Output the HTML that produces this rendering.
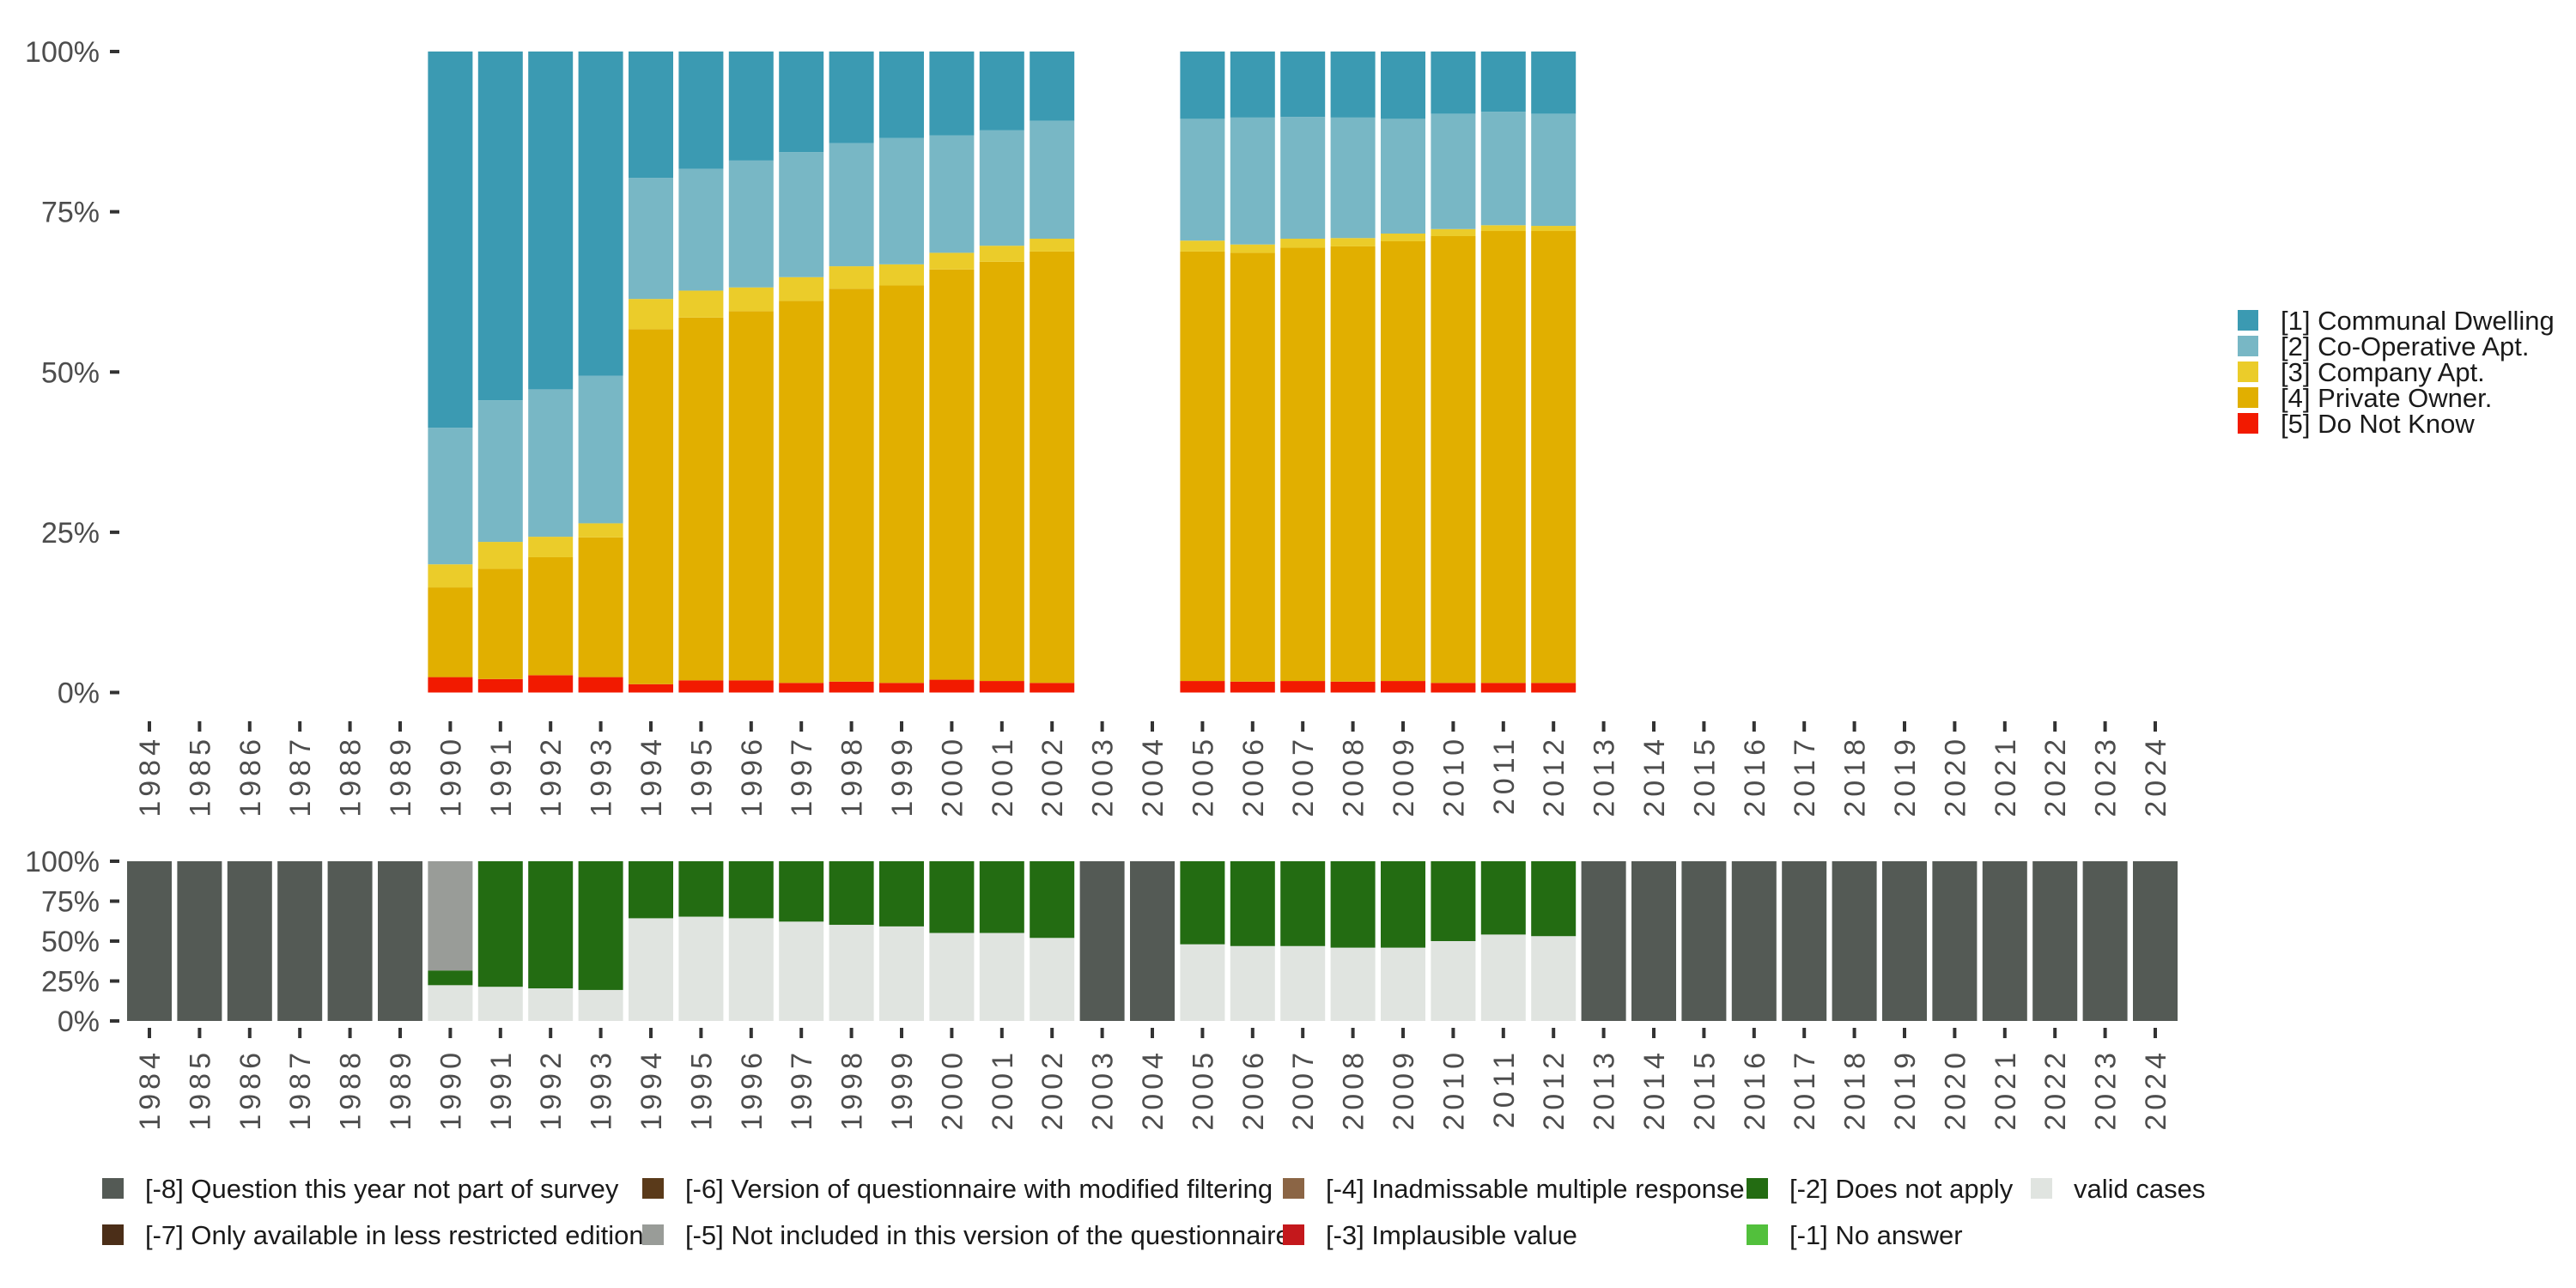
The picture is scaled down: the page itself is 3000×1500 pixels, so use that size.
<!DOCTYPE html>
<html><head><meta charset="utf-8"><style>
html,body{margin:0;padding:0;background:#fff;}
svg{display:block;font-family:"Liberation Sans",sans-serif;}
</style></head><body>
<svg id="chart" width="3000" height="1500" viewBox="0 0 3000 1500">
<g id="topPanel"></g>
<g id="botPanel"></g>
<g id="legR"></g>
<g id="legB"></g>
</svg>
<script>
const years = [];
for (let y = 1984; y <= 2024; y++) years.push(y);
const topYears = [1990,1991,1992,1993,1994,1995,1996,1997,1998,1999,2000,2001,2002,2005,2006,2007,2008,2009,2010,2011,2012];
const cumRed   = [2.4,2.1,2.7,2.4,1.3,1.9,1.9,1.5,1.7,1.5,2.0,1.8,1.5,1.8,1.7,1.8,1.7,1.8,1.5,1.5,1.5];
const cumGold  = [16.4,19.3,21.1,24.2,56.7,58.5,59.5,61.1,63.0,63.5,66.0,67.2,68.8,68.8,68.6,69.4,69.6,70.4,71.2,72.0,72.0];
const cumYel   = [20.0,23.5,24.3,26.4,61.4,62.7,63.2,64.8,66.5,66.8,68.6,69.7,70.8,70.5,69.9,70.8,70.9,71.6,72.3,72.9,72.8];
const cumLight = [41.3,45.6,47.3,49.4,80.3,81.7,83.0,84.3,85.7,86.5,86.9,87.7,89.2,89.5,89.7,89.8,89.7,89.5,90.3,90.6,90.3];
const topNames = ["[1] Communal Dwelling","[2] Co-Operative Apt.","[3] Company Apt.","[4] Private Owner.","[5] Do Not Know"];
const topColors = ["#3b9ab2","#78b7c5","#ebcc2a","#e1af00","#f21a00"];
const validPct = [22.4,21.4,20.4,19.4,64.3,65.3,64.3,62.2,60.2,59.2,55.1,55.1,52.0,48.0,46.9,46.9,45.9,45.9,50.0,54.1,53.1];
const dnaCum   = [31.6,100,100,100,100,100,100,100,100,100,100,100,100,100,100,100,100,100,100,100,100];
const yTicks = [0,25,50,75,100];
const yTickLabels = ["0%","25%","50%","75%","100%"];
const NS="http://www.w3.org/2000/svg";
function mk(tag, attrs, parent){const e=document.createElementNS(NS,tag);for(const k in attrs)e.setAttribute(k,attrs[k]);parent.appendChild(e);return e;}
const xS = y => 174 + (y-1984)*58.4;
const BW = 52;
const topY = v => 806.5 - v/100*746.5;
const botY = v => 1189 - v/100*186;
const topG=document.getElementById('topPanel'), botG=document.getElementById('botPanel');
function axes(g, yf, tickY, labY, pre){
  yTicks.forEach((t,i)=>{
    const tk=mk('line',{x1:128,x2:139,y1:yf(t),y2:yf(t),stroke:'#333','stroke-width':4},g);
    
    
    const tx=mk('text',{x:116,y:yf(t)+12,'text-anchor':'end','font-size':34,fill:'#4d4d4d'},g);
    tx.textContent=yTickLabels[i];
    
    
  });
  years.forEach(y=>{
    const tk=mk('line',{x1:xS(y),x2:xS(y),y1:tickY,y2:tickY+12,stroke:'#333','stroke-width':4},g);
    
    
    const tx=mk('text',{x:0,y:0,'text-anchor':'end','font-size':34,fill:'#4d4d4d','letter-spacing':5,transform:`translate(${xS(y)+12},${labY}) rotate(-90)`},g);
    tx.textContent=y;
    
    
  });
}
axes(topG, topY, 840, 856, 'top');
axes(botG, botY, 1197, 1221, 'bottom');
topYears.forEach((y,i)=>{
  const bounds=[0,cumRed[i],cumGold[i],cumYel[i],cumLight[i],100];
  const cols=["#f21a00","#e1af00","#ebcc2a","#78b7c5","#3b9ab2"];
  for(let s=0;s<5;s++){
    const r=mk('rect',{x:xS(y)-BW/2,y:topY(bounds[s+1]),width:BW,height:topY(bounds[s])-topY(bounds[s+1]),fill:cols[s]},topG);
    
    
  }
});
years.forEach(y=>{
  const i=topYears.indexOf(y);
  let segs;
  if(i<0) segs=[[0,100,"#545a55"]];
  else segs=[[0,validPct[i],"#e0e4e0"],[validPct[i],dnaCum[i],"#236c12"],[dnaCum[i],100,"#999c98"]];
  segs.forEach(([a,b,c])=>{
    if(b<=a) return;
    const r=mk('rect',{x:xS(y)-BW/2,y:botY(b),width:BW,height:botY(a)-botY(b),fill:c},botG);
    
    
  });
});
const lr=document.getElementById('legR');
topNames.forEach((n,i)=>{
  const r=mk('rect',{x:2606,y:361+i*30,width:24,height:24,fill:topColors[i]},lr);
  
  
  const t=mk('text',{x:2656,y:384+i*30,'font-size':31,fill:'#1a1a1a'},lr);
  t.textContent=n;
  
  
});
const lb=document.getElementById('legB');
const botLeg=[
 [119,0,"#545a55","[-8] Question this year not part of survey"],
 [748,0,"#5a3a1a","[-6] Version of questionnaire with modified filtering"],
 [1494,0,"#8b6545","[-4] Inadmissable multiple response"],
 [2034,0,"#236c12","[-2] Does not apply"],
 [2365,0,"#e0e4e0","valid cases"],
 [119,1,"#4b2e18","[-7] Only available in less restricted edition"],
 [748,1,"#999c98","[-5] Not included in this version of the questionnaire"],
 [1494,1,"#c4181c","[-3] Implausible value"],
 [2034,1,"#52c03c","[-1] No answer"]];
botLeg.forEach(([x,row,c,n])=>{
  const yy=1372+row*54;
  const r=mk('rect',{x:x,y:yy,width:25,height:24,fill:c},lb);
  
  
  const t=mk('text',{x:x+50,y:yy+23,'font-size':31,fill:'#1a1a1a'},lb);
  t.textContent=n;
  
  
});
</script>
</body></html>
